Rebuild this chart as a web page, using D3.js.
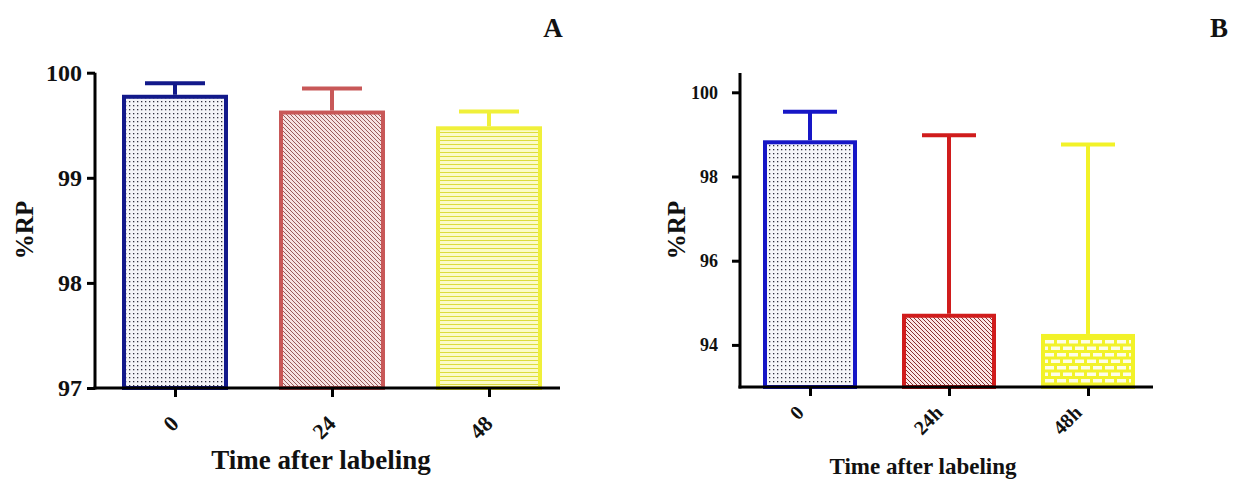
<!DOCTYPE html>
<meta charset="utf-8">
<style>
body { margin: 0; background: #fff; }
svg text { font-family: "Liberation Serif", "DejaVu Serif", serif; font-weight: bold; fill: #111; }
.axis path { display: none; }
.axis line { stroke: #000; stroke-width: 3px; }
</style>
<svg width="1233" height="479"></svg>
<script src="https://d3js.org/d3.v7.min.js"></script>
<script>

// panel A
var catsA = ["0", "24", "48"];
var meanA = [99.79, 99.64, 99.49];
var sdA = [0.11, 0.21, 0.14];
var ticksA = [97, 98, 99, 100];

// panel B
var catsB = ["0", "24h", "48h"];
var meanB = [98.86, 94.74, 94.26];
var sdB = [0.68, 4.24, 4.50];
var ticksB = [94, 96, 98, 100];

var svg = d3.select("svg");
var defs = svg.append("defs");

// fill patterns
function dots(id, bg, fg) {
  var p = defs.append("pattern").attr("id", id).attr("patternUnits", "userSpaceOnUse")
      .attr("width", 4).attr("height", 4);
  p.append("rect").attr("width", 4).attr("height", 4).attr("fill", bg);
  p.append("rect").attr("x", 1).attr("y", 1).attr("width", 1.3).attr("height", 1.3).attr("fill", fg);
}
function hatch(id, bg, fg) {
  var p = defs.append("pattern").attr("id", id).attr("patternUnits", "userSpaceOnUse")
      .attr("width", 4).attr("height", 4);
  p.append("rect").attr("width", 4).attr("height", 4).attr("fill", bg);
  p.append("path").attr("d", "M-1,-1L5,5M-1,3L1,5M3,-1L5,1")
      .attr("stroke", fg).attr("stroke-width", 1);
}
function hlines(id, bg, fg) {
  var p = defs.append("pattern").attr("id", id).attr("patternUnits", "userSpaceOnUse")
      .attr("width", 4).attr("height", 4);
  p.append("rect").attr("width", 4).attr("height", 4).attr("fill", bg);
  p.append("rect").attr("y", 0).attr("width", 4).attr("height", 1).attr("fill", fg);
}
function bricks(id, bg, fg) {
  var p = defs.append("pattern").attr("id", id).attr("patternUnits", "userSpaceOnUse")
      .attr("width", 12).attr("height", 13);
  p.append("rect").attr("width", 12).attr("height", 13).attr("fill", bg);
  p.append("rect").attr("x", 1).attr("y", 2).attr("width", 9).attr("height", 3.5).attr("fill", fg);
  p.append("rect").attr("x", 7).attr("y", 8.5).attr("width", 9).attr("height", 3.5).attr("fill", fg);
  p.append("rect").attr("x", -5).attr("y", 8.5).attr("width", 9).attr("height", 3.5).attr("fill", fg);
}

dots("dotA", "#f4f4f8", "#303040");
hatch("hatchA", "#f6e2e2", "#9a5a5a");
hlines("lineA", "#fbfbc8", "#dcdc3c");
dots("dotB", "#f6f6fa", "#303040");
hatch("hatchB", "#fbe6e6", "#8a3030");
bricks("brickB", "#f2f22a", "#fdfde8");

function panel(o) {
  var g = svg.append("g");
  var x = d3.scalePoint().domain(o.cats).range(o.xr);
  var y = d3.scaleLinear().domain(o.yd).range(o.yr);

  var bars = g.append("g").selectAll("g")
    .data(o.means)
    .enter().append("g");

  // error bars (upper only)
  bars.append("line")
      .attr("x1", function(d, i) { return x(o.cats[i]); })
      .attr("x2", function(d, i) { return x(o.cats[i]); })
      .attr("y1", function(d) { return y(d); })
      .attr("y2", function(d, i) { return y(d + o.sds[i]); })
      .attr("stroke", function(d, i) { return o.colors[i]; })
      .attr("stroke-width", 4);
  bars.append("line")
      .attr("x1", function(d, i) { return x(o.cats[i]) - o.cap / 2; })
      .attr("x2", function(d, i) { return x(o.cats[i]) + o.cap / 2; })
      .attr("y1", function(d, i) { return y(d + o.sds[i]); })
      .attr("y2", function(d, i) { return y(d + o.sds[i]); })
      .attr("stroke", function(d, i) { return o.colors[i]; })
      .attr("stroke-width", 4);

  bars.append("rect")
      .attr("x", function(d, i) { return x(o.cats[i]) - o.bw / 2 + 2; })
      .attr("y", function(d) { return y(d) + 2; })
      .attr("width", o.bw - 4)
      .attr("height", function(d) { return y(o.yd[0]) - y(d) - 2; })
      .attr("fill", function(d, i) { return "url(#" + o.fills[i] + ")"; })
      .attr("stroke", function(d, i) { return o.colors[i]; })
      .attr("stroke-width", 4);

  // axes
  var yAxis = g.append("g").attr("class", "axis")
      .attr("transform", "translate(" + o.x0 + ",0)")
      .call(d3.axisLeft(y).tickValues(o.ticks).tickSize(8).tickPadding(o.tpad).tickFormat(d3.format("d")));
  yAxis.attr("font-family", null);
  yAxis.selectAll("text").style("font-size", o.yfs + "px");

  var xAxis = g.append("g").attr("class", "axis")
      .attr("transform", "translate(0," + y(o.yd[0]) + ")")
      .call(d3.axisBottom(x).tickSize(9).tickFormat(""));

  g.append("line")
      .attr("x1", o.x0).attr("x2", o.x0)
      .attr("y1", o.ytop).attr("y2", y(o.yd[0]) + 1.5)
      .attr("stroke", "#000").attr("stroke-width", 3);
  g.append("line")
      .attr("x1", o.x0 - 1.5).attr("x2", o.x1)
      .attr("y1", y(o.yd[0])).attr("y2", y(o.yd[0]))
      .attr("stroke", "#000").attr("stroke-width", 3);

  // rotated category labels
  g.append("g").selectAll("text")
    .data(o.cats)
    .enter().append("text")
      .attr("text-anchor", "end")
      .attr("transform", function(d) {
        return "translate(" + (x(d) + o.lx) + "," + o.ly + ") rotate(-45)";
      })
      .style("font-size", o.xfs + "px")
      .text(function(d) { return d; });

  g.append("text")
      .attr("text-anchor", "middle")
      .attr("transform", "translate(" + o.ylab[0] + "," + o.ylab[1] + ") rotate(-90)")
      .style("font-size", "25px")
      .text("%RP");

  g.append("text")
      .attr("text-anchor", "middle")
      .attr("x", o.xlab[0]).attr("y", o.xlab[1])
      .style("font-size", o.xlab[2] + "px")
      .text("Time after labeling");

  g.append("text")
      .attr("text-anchor", "middle")
      .attr("x", o.tag[0]).attr("y", 37)
      .style("font-size", "27px")
      .text(o.name);
}

panel({
  name: "A", tag: [553],
  cats: catsA, means: meanA, sds: sdA, ticks: ticksA,
  colors: ["#12198a", "#c85858", "#f0f03a"],
  fills: ["dotA", "hatchA", "lineA"],
  xr: [175, 489], yd: [97, 100], yr: [388, 72.7],
  x0: 95, x1: 560, ytop: 72.7, bw: 106, cap: 60,
  yfs: 24, tpad: 5, xfs: 22, lx: 5, ly: 425,
  ylab: [33, 230], xlab: [321, 469, 27]
});

panel({
  name: "B", tag: [1219],
  cats: catsB, means: meanB, sds: sdB, ticks: ticksB,
  colors: ["#1616c6", "#d01c1c", "#f2f228"],
  fills: ["dotB", "hatchB", "brickB"],
  xr: [810, 1088], yd: [93, 100], yr: [387, 92.3],
  x0: 740, x1: 1153, ytop: 73, bw: 94, cap: 54,
  yfs: 18, tpad: 14, xfs: 20, lx: -5, ly: 414,
  ylab: [685, 230], xlab: [923, 474, 23]
});

</script>
